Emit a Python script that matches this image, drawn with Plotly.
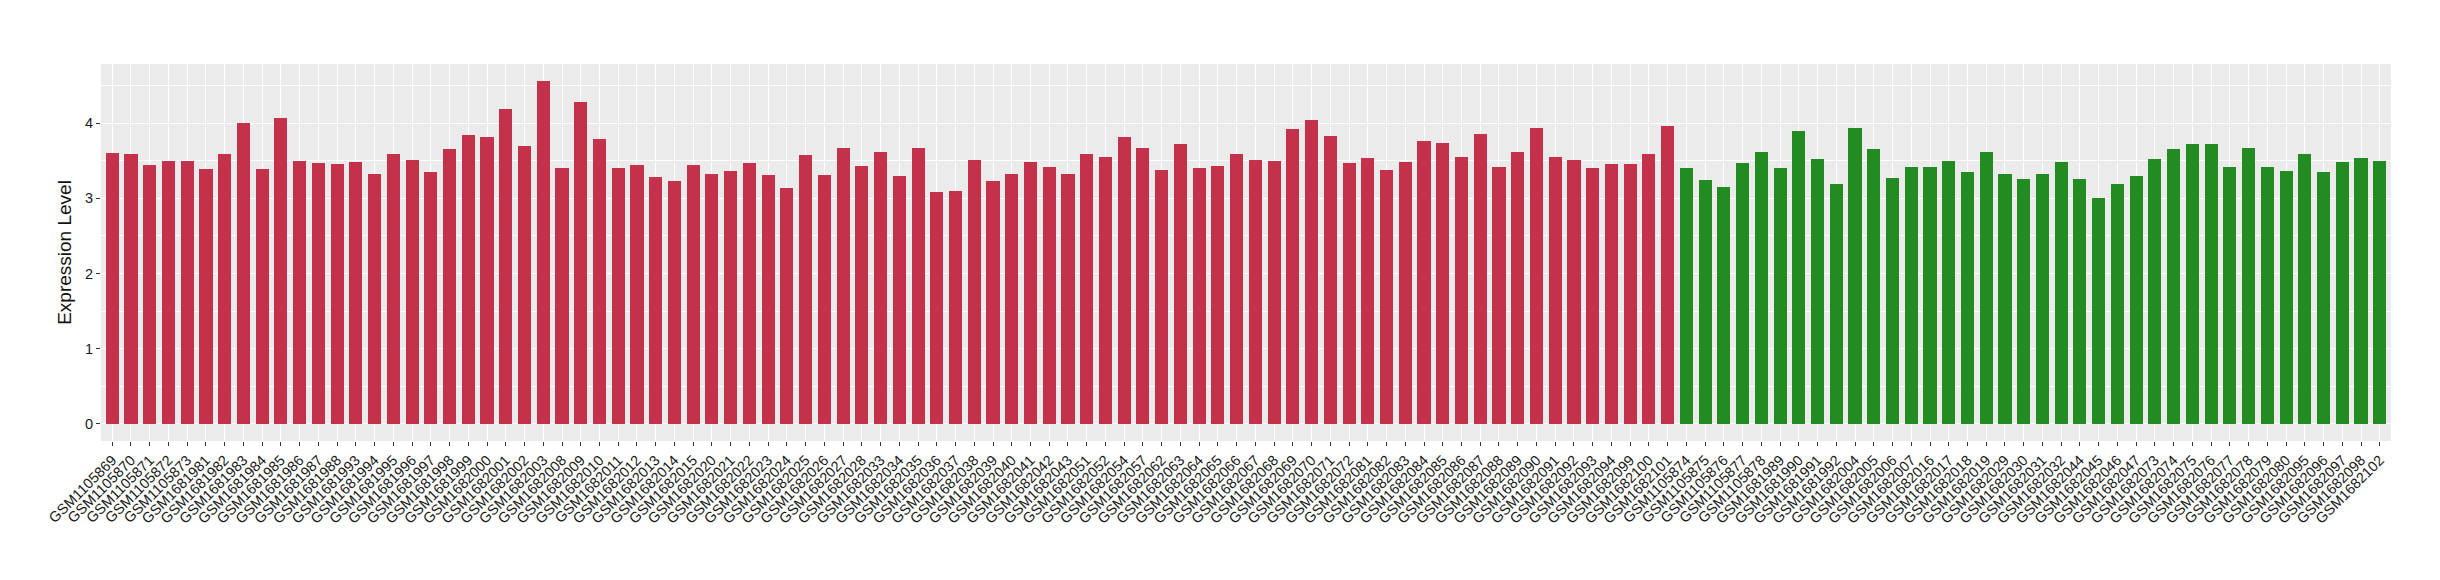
import plotly.graph_objects as go

red_samples = [
    "GSM1105869", "GSM1105870", "GSM1105871", "GSM1105872", "GSM1105873",
    "GSM1681981", "GSM1681982", "GSM1681983", "GSM1681984", "GSM1681985",
    "GSM1681986", "GSM1681987", "GSM1681988", "GSM1681993", "GSM1681994",
    "GSM1681995", "GSM1681996", "GSM1681997", "GSM1681998", "GSM1681999",
    "GSM1682000", "GSM1682001", "GSM1682002", "GSM1682003", "GSM1682008",
    "GSM1682009", "GSM1682010", "GSM1682011", "GSM1682012", "GSM1682013",
    "GSM1682014", "GSM1682015", "GSM1682020", "GSM1682021", "GSM1682022",
    "GSM1682023", "GSM1682024", "GSM1682025", "GSM1682026", "GSM1682027",
    "GSM1682028", "GSM1682033", "GSM1682034", "GSM1682035", "GSM1682036",
    "GSM1682037", "GSM1682038", "GSM1682039", "GSM1682040", "GSM1682041",
    "GSM1682042", "GSM1682043", "GSM1682051", "GSM1682052", "GSM1682054",
    "GSM1682057", "GSM1682062", "GSM1682063", "GSM1682064", "GSM1682065",
    "GSM1682066", "GSM1682067", "GSM1682068", "GSM1682069", "GSM1682070",
    "GSM1682071", "GSM1682072", "GSM1682081", "GSM1682082", "GSM1682083",
    "GSM1682084", "GSM1682085", "GSM1682086", "GSM1682087", "GSM1682088",
    "GSM1682089", "GSM1682090", "GSM1682091", "GSM1682092", "GSM1682093",
    "GSM1682094", "GSM1682099", "GSM1682100", "GSM1682101",
]
red_values = [
    3.606, 3.584, 3.442, 3.491, 3.491, 3.389, 3.592, 3.996, 3.389, 4.071,
    3.491, 3.464, 3.455, 3.477, 3.327, 3.592, 3.504, 3.349, 3.659, 3.841,
    3.814, 4.186, 3.699, 4.558, 3.402, 4.275, 3.787, 3.402, 3.442, 3.287,
    3.234, 3.442, 3.327, 3.362, 3.464, 3.313, 3.132, 3.570, 3.313, 3.672,
    3.429, 3.619, 3.300, 3.672, 3.079, 3.092, 3.504, 3.234, 3.327, 3.477,
    3.415, 3.327, 3.592, 3.544, 3.814, 3.672, 3.375, 3.725, 3.402, 3.429,
    3.592, 3.504, 3.491, 3.916, 4.044, 3.827, 3.464, 3.530, 3.375, 3.477,
    3.761, 3.734, 3.544, 3.854, 3.415, 3.619, 3.929, 3.544, 3.504, 3.402,
    3.455, 3.455, 3.584, 3.956,
]

green_samples = [
    "GSM1105874", "GSM1105875", "GSM1105876", "GSM1105877", "GSM1105878",
    "GSM1681989", "GSM1681990", "GSM1681991", "GSM1681992", "GSM1682004",
    "GSM1682005", "GSM1682006", "GSM1682007", "GSM1682016", "GSM1682017",
    "GSM1682018", "GSM1682019", "GSM1682029", "GSM1682030", "GSM1682031",
    "GSM1682032", "GSM1682044", "GSM1682045", "GSM1682046", "GSM1682047",
    "GSM1682073", "GSM1682074", "GSM1682075", "GSM1682076", "GSM1682077",
    "GSM1682078", "GSM1682079", "GSM1682080", "GSM1682095", "GSM1682096",
    "GSM1682097", "GSM1682098", "GSM1682102",
]
green_values = [
    3.402, 3.247, 3.145, 3.464, 3.619, 3.402, 3.889, 3.517, 3.194, 3.929,
    3.659, 3.273, 3.415, 3.415, 3.491, 3.349, 3.619, 3.327, 3.260, 3.327,
    3.477, 3.260, 3.003, 3.194, 3.300, 3.517, 3.659, 3.725, 3.725, 3.415,
    3.672, 3.415, 3.362, 3.592, 3.349, 3.477, 3.530, 3.491,
]

y_ticks = [0, 1, 2, 3, 4]
RED = "#C3314A"
GREEN = "#228B22"

samples = red_samples + green_samples
values = red_values + green_values
colors = [RED] * len(red_samples) + [GREEN] * len(green_samples)

fig = go.Figure()
fig.add_trace(go.Bar(
    x=samples, y=values, marker=dict(color=colors, line=dict(width=0)),
    width=0.7, showlegend=False,
))

ymax = max(values)
font = "Liberation Sans, Arial, Helvetica, sans-serif"
fig.update_layout(
    width=2440, height=580,
    margin=dict(l=93, r=57, t=56, b=147, autoexpand=False),
    paper_bgcolor="white", plot_bgcolor="#EBEBEB",
    font=dict(family=font, color="#222222"),
    bargap=0,
)
fig.update_xaxes(
    type="category", categoryorder="array", categoryarray=samples,
    range=[-0.6, len(samples) - 0.4],
    tickangle=-45, tickfont=dict(size=14.5, color="#1a1a1a"),
    ticks="outside", ticklen=4, tickcolor="#333333", tickwidth=1,
    showgrid=True, gridcolor="white", gridwidth=1.3,
    showline=False, zeroline=False,
)
fig.update_yaxes(
    range=[-0.05 * ymax, 1.05 * ymax],
    tickvals=y_ticks, ticktext=[str(t) for t in y_ticks],
    tickfont=dict(size=14.5, color="#1a1a1a"),
    ticks="outside", ticklen=4, tickcolor="#333333", tickwidth=1,
    showgrid=True, gridcolor="white", gridwidth=1.3,
    minor=dict(dtick=0.5, tick0=0.5, showgrid=True, gridcolor="white", gridwidth=0.6),
    zeroline=False, showline=False,
    title=dict(text="Expression Level", font=dict(size=19, color="#111111"), standoff=8),
)

fig.write_html("out.html")
